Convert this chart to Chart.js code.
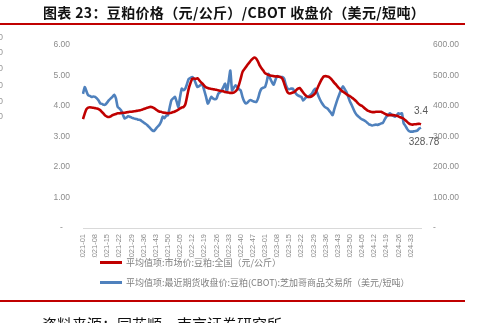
<!DOCTYPE html>
<html>
<head>
<meta charset="utf-8">
<script src="https://cdn.jsdelivr.net/npm/chart.js@4.4.1/dist/chart.umd.min.js"></script>
<style>
  body { margin: 0; width: 478px; height: 323px; overflow: hidden; background: #fff; position: relative; font-family: "Noto Sans CJK SC", sans-serif; }
  #c { position: absolute; left: 0; top: 0; }
  .abs { position: absolute; white-space: nowrap; }
  #title { left: 43px; top: 2px; font-size: 14px; letter-spacing: 0.35px; font-weight: bold; color: #111; }
  .rule { position: absolute; left: 0; width: 465px; height: 2px; background: #c00000; }
  .leg { position: absolute; left: 100px; font-size: 9px; color: #7f7f7f; white-space: nowrap; line-height: 12px; }
  .leg i { display: inline-block; width: 22px; height: 3px; vertical-align: middle; margin-right: 4px; position: relative; top: -1px; }
  .stub { position: absolute; left: -2px; font-size: 9px; color: #999; font-family: "Liberation Sans", sans-serif; }
  #src { left: 42px; top: 313px; font-size: 15px; color: #111; }
</style>
</head>
<body>
<canvas id="c" width="478" height="323"></canvas>
<div id="title" class="abs">图表 23：豆粕价格（元/公斤）/CBOT 收盘价（美元/短吨）</div>
<div class="rule" style="top:23px"></div>
<div class="stub" style="top:32px">0</div>
<div class="stub" style="top:47px">0</div>
<div class="stub" style="top:63px">0</div>
<div class="stub" style="top:80px">0</div>
<div class="stub" style="top:96px">0</div>
<div class="stub" style="top:111px">0</div>
<div class="leg" style="top:257px"><i style="background:#c00000"></i>平均值项:市场价:豆粕:全国（元/公斤）</div>
<div class="leg" style="top:277px"><i style="background:#4f81bd"></i>平均值项:最近期货收盘价:豆粕(CBOT):芝加哥商品交易所（美元/短吨）</div>
<div class="rule" style="top:300px"></div>
<div id="src" class="abs">资料来源：同花顺，南京证券研究所</div>
<script>
// weeks per year shown on the axis (2024 runs to week 39)
const years = [2021, 2022, 2023, 2024];
const weeksInYear = [52, 53, 52, 39];
const labels = [];
years.forEach((y, i) => {
  for (let w = 1; w <= weeksInYear[i]; w++) labels.push(y + '-' + String(w).padStart(2, '0'));
});

// 豆粕市场价 全国 (元/公斤), left axis
const mealPrice = [
  3.57, 3.75, 3.90, 3.95, 3.96, 3.95, 3.94, 3.93, 3.92, 3.90,
  3.86, 3.80, 3.74, 3.68, 3.65, 3.64, 3.66, 3.70, 3.72, 3.74,
  3.76, 3.76, 3.77, 3.78, 3.78, 3.79, 3.80, 3.81, 3.81, 3.82,
  3.83, 3.84, 3.85, 3.86, 3.88, 3.90, 3.92, 3.94, 3.96, 3.97,
  3.96, 3.93, 3.89, 3.85, 3.82, 3.81, 3.79, 3.78, 3.77, 3.76,
  3.77, 3.78, 3.80, 3.82, 3.85, 3.88, 3.92, 3.95, 3.97, 4.05,
  4.30, 4.57, 4.75, 4.89, 4.90, 4.89, 4.91, 4.85, 4.78, 4.73,
  4.66, 4.61, 4.59, 4.57, 4.56, 4.55, 4.54, 4.53, 4.52, 4.50,
  4.49, 4.48, 4.46, 4.45, 4.44, 4.43, 4.43, 4.44, 4.48, 4.55,
  4.70, 4.90, 5.11, 5.20, 5.28, 5.36, 5.43, 5.50, 5.56, 5.59,
  5.55, 5.45, 5.32, 5.24, 5.16, 5.08, 5.05, 5.02, 5.00, 4.99,
  4.98, 4.97, 4.97, 4.96, 4.95, 4.90, 4.75, 4.58, 4.45, 4.41,
  4.42, 4.44, 4.46, 4.52, 4.57, 4.59, 4.52, 4.44, 4.37, 4.32,
  4.30, 4.30, 4.32, 4.36, 4.42, 4.55, 4.68, 4.80, 4.90, 4.97,
  4.98, 4.97, 4.95, 4.90, 4.83, 4.76, 4.70, 4.63, 4.57, 4.51,
  4.47, 4.43, 4.39, 4.35, 4.32, 4.28, 4.24, 4.19, 4.13, 4.07,
  4.03, 4.00, 3.95, 3.90, 3.86, 3.83, 3.81, 3.80, 3.80, 3.81,
  3.81, 3.81, 3.81, 3.78, 3.75, 3.72, 3.70, 3.70, 3.70, 3.70,
  3.69, 3.68, 3.66, 3.63, 3.61, 3.58, 3.53, 3.48, 3.43, 3.40,
  3.39, 3.40, 3.40, 3.41, 3.42, 3.40
];

// CBOT 豆粕收盘价 (美元/短吨), right axis
const cbotClose = [
  440, 462, 448, 435, 433, 430, 431, 430, 425, 418,
  408, 407, 404, 405, 412, 419, 425, 430, 437, 425,
  397, 392, 386, 372, 359, 362, 366, 365, 362, 360,
  358, 357, 355, 354, 350, 346, 342, 338, 332, 326,
  320, 318, 325, 332, 338, 348, 365, 360, 368, 370,
  395, 419, 425, 430, 415, 397, 430, 457, 452, 457,
  472, 489, 492, 495, 489, 475, 462, 465, 470, 468,
  450, 430, 408, 418, 430, 425, 422, 424, 440, 445,
  451, 462, 473, 446, 480, 516, 451, 460, 468, 462,
  455, 451, 430, 415, 408, 412, 418, 419, 416, 414,
  413, 425, 445, 457, 460, 462, 480, 505, 490, 478,
  470, 485, 498, 496, 495, 495, 490, 470, 457, 455,
  457, 457, 448, 440, 435, 432, 430, 418, 424, 430,
  430, 435, 440, 450, 457, 445, 430, 418, 408, 400,
  395, 392, 385, 378, 370, 390, 408, 425, 440, 455,
  465, 455, 446, 430, 415, 403, 390, 378, 370, 365,
  360, 356, 354, 350, 345, 340, 338, 336, 338, 339,
  338, 340, 343, 345, 355, 365, 370, 376, 372, 368,
  365, 370, 376, 374, 376, 343, 335, 325, 318, 316,
  316, 317, 318, 320, 326, 328.78
];

const tickFont = { family: 'Liberation Sans', size: 8.5 };
const tickColor = '#8c8c8c';

// labels on the last point of each line
const endLabels = {
  id: 'endLabels',
  afterDatasetsDraw(chart) {
    const c = chart.ctx;
    c.save();
    c.font = '10px "Liberation Sans"';
    c.fillStyle = '#595959';
    c.textAlign = 'center';
    c.textBaseline = 'middle';
    const r = chart.getDatasetMeta(0).data;
    const b = chart.getDatasetMeta(1).data;
    const pr = r[r.length - 1], pb = b[b.length - 1];
    c.fillText('3.4', pr.x, pr.y - 13);
    c.fillText('328.78', pb.x + 3, pb.y + 15);
    c.restore();
  }
};

new Chart(document.getElementById('c'), {
  type: 'line',
  data: {
    labels: labels,
    datasets: [
      { label: '平均值项:市场价:豆粕:全国（元/公斤）', data: mealPrice, yAxisID: 'y',
        borderColor: '#c00000', borderWidth: 2.6, pointRadius: 0, tension: 0.3 },
      { label: '平均值项:最近期货收盘价:豆粕(CBOT):芝加哥商品交易所（美元/短吨）', data: cbotClose, yAxisID: 'y1',
        borderColor: '#4f81bd', borderWidth: 2.6, pointRadius: 0, tension: 0.2 }
    ]
  },
  options: {
    responsive: false,
    animation: false,
    layout: { padding: { top: 45, bottom: 65, left: 0, right: 0 } },
    plugins: { legend: { display: false }, tooltip: { enabled: false } },
    scales: {
      x: {
        offset: false,
        grid: { display: false, drawTicks: false },
        border: { color: '#d9d9d9', width: 1 },
        afterFit: s => { s.height = 30; },
        ticks: {
          autoSkip: false, minRotation: 90, maxRotation: 90, padding: 6,
          color: tickColor, font: { family: 'Liberation Sans', size: 7.5 },
          callback: (v, i) => (i % 7 === 0 ? labels[i] : '')
        }
      },
      y: {
        position: 'left', min: 0, max: 6,
        grid: { display: false, drawTicks: false },
        border: { display: false },
        afterFit: s => { s.width = 83; },
        ticks: { stepSize: 1, padding: 13, color: tickColor, font: tickFont,
          callback: v => (v === 0 ? '-   ' : v.toFixed(2)) }
      },
      y1: {
        position: 'right', min: 0, max: 600,
        grid: { display: false, drawTicks: false },
        border: { display: false },
        afterFit: s => { s.width = 57; },
        ticks: { stepSize: 100, padding: 12, color: tickColor, font: tickFont,
          callback: v => (v === 0 ? '-' : v.toFixed(2)) }
      }
    }
  },
  plugins: [endLabels]
});
</script>
</body>
</html>
